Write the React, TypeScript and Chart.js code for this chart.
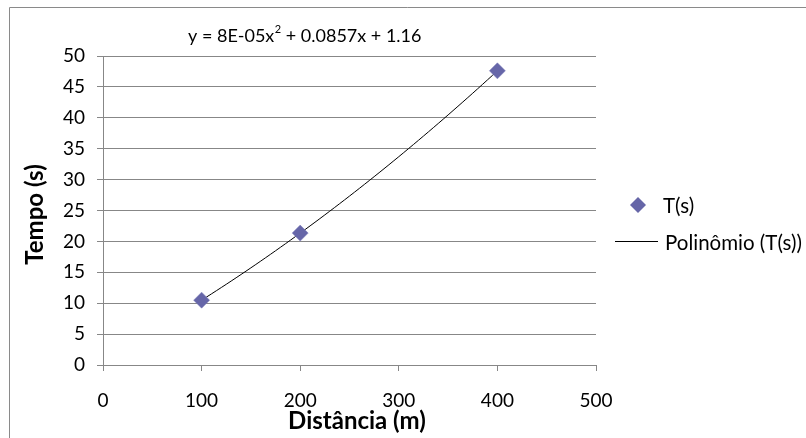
import React, { useEffect, useRef } from "react";
import { Chart, registerables } from "chart.js";

Chart.register(...registerables);

// Measured run times over each distance
const distances = [100, 200, 400];
const times = [10.49, 21.34, 47.6];

const xTicks = { min: 0, max: 500, step: 100 };
const yTicks = { min: 0, max: 50, step: 5 };

const seriesName = "T(s)";
const trendName = "Polinômio (T(s))";
const xTitle = "Distância (m)";
const yTitle = "Tempo (s)";

const FONT = "Lato, 'Open Sans', sans-serif";
const GRID = "#878787";
const MARKER = "#6666A8";

// Least-squares quadratic fit y = a x^2 + b x + c
function fitQuadratic(xs: number[], ys: number[]) {
  const s = [0, 0, 0, 0, 0];
  const t = [0, 0, 0];
  for (let i = 0; i < xs.length; i++) {
    let p = 1;
    for (let k = 0; k < 5; k++) {
      s[k] += p;
      if (k < 3) t[k] += p * ys[i];
      p *= xs[i];
    }
  }
  // normal equations, unknowns ordered [c, b, a]
  const m = [
    [s[0], s[1], s[2], t[0]],
    [s[1], s[2], s[3], t[1]],
    [s[2], s[3], s[4], t[2]],
  ];
  for (let i = 0; i < 3; i++) {
    let piv = i;
    for (let r = i + 1; r < 3; r++) if (Math.abs(m[r][i]) > Math.abs(m[piv][i])) piv = r;
    [m[i], m[piv]] = [m[piv], m[i]];
    for (let r = 0; r < 3; r++) {
      if (r === i) continue;
      const f = m[r][i] / m[i][i];
      for (let c = i; c < 4; c++) m[r][c] -= f * m[i][c];
    }
  }
  const c = m[0][3] / m[0][0];
  const b = m[1][3] / m[1][1];
  const a = m[2][3] / m[2][2];
  return { a, b, c };
}

const fit = fitQuadratic(distances, times);

function excelExp(v: number) {
  const [mant, exp] = v.toExponential(0).split("e");
  const n = parseInt(exp, 10);
  const sign = n < 0 ? "-" : "+";
  return `${mant}E${sign}${String(Math.abs(n)).padStart(2, "0")}`;
}

const eqLead = `y = ${excelExp(fit.a)}x`;
const eqTail = ` + ${Number(fit.b.toPrecision(3))}x + ${Number(fit.c.toPrecision(3))}`;

// curve evaluated across the span of the measured distances
const trendPoints = (() => {
  const lo = Math.min(...distances);
  const hi = Math.max(...distances);
  const pts: { x: number; y: number }[] = [];
  const n = 60;
  for (let i = 0; i <= n; i++) {
    const x = lo + ((hi - lo) * i) / n;
    pts.push({ x, y: fit.a * x * x + fit.b * x + fit.c });
  }
  return pts;
})();

const decorations = {
  id: "decorations",
  afterDraw(chart: any) {
    const ctx = chart.ctx as CanvasRenderingContext2D;
    ctx.save();

    // frame
    ctx.strokeStyle = "#8a8a8a";
    ctx.lineWidth = 1;
    ctx.beginPath();
    ctx.moveTo(9.5, 438);
    ctx.lineTo(9.5, 7.5);
    ctx.lineTo(806, 7.5);
    ctx.stroke();

    // trendline equation
    ctx.fillStyle = "#000";
    ctx.textBaseline = "alphabetic";
    ctx.textAlign = "left";
    ctx.font = `18px ${FONT}`;
    let x = 188;
    const base = 41.5;
    ctx.fillText(eqLead, x, base);
    x += ctx.measureText(eqLead).width;
    ctx.font = `11px ${FONT}`;
    ctx.fillText("2", x + 0.5, base - 8.5);
    x += ctx.measureText("2").width + 0.5;
    ctx.font = `18px ${FONT}`;
    ctx.fillText(eqTail, x, base);

    // axis titles
    ctx.font = `bold 24px ${FONT}`;
    ctx.textAlign = "center";
    ctx.textBaseline = "alphabetic";
    ctx.fillText(xTitle, 357, 429);
    ctx.save();
    ctx.translate(43, 214.5);
    ctx.rotate(-Math.PI / 2);
    ctx.fillText(yTitle, 0, 0);
    ctx.restore();

    // legend
    const dx = 638, dy = 205, r = 8;
    ctx.fillStyle = MARKER;
    ctx.beginPath();
    ctx.moveTo(dx - r, dy);
    ctx.lineTo(dx, dy - r);
    ctx.lineTo(dx + r, dy);
    ctx.lineTo(dx, dy + r);
    ctx.closePath();
    ctx.fill();

    ctx.strokeStyle = "#000";
    ctx.beginPath();
    ctx.moveTo(615, 241.5);
    ctx.lineTo(658, 241.5);
    ctx.stroke();

    ctx.fillStyle = "#000";
    ctx.font = `20.5px ${FONT}`;
    ctx.textAlign = "left";
    ctx.textBaseline = "middle";
    ctx.fillText(seriesName, 663, 206.5);
    ctx.fillText(trendName, 665, 243);

    ctx.restore();
  },
};

export default function App() {
  const ref = useRef<HTMLCanvasElement>(null);

  useEffect(() => {
    if (!ref.current) return;
    const chart = new Chart(ref.current, {
      type: "scatter",
      data: {
        datasets: [
          {
            label: trendName,
            type: "line",
            data: trendPoints,
            borderColor: "#000",
            borderWidth: 1,
            pointRadius: 0,
            tension: 0,
            fill: false,
            order: 2,
          },
          {
            label: seriesName,
            data: distances.map((d, i) => ({ x: d, y: times[i] })),
            pointStyle: "rectRot",
            pointRadius: 8,
            pointHoverRadius: 8,
            backgroundColor: MARKER,
            borderColor: "#7a7ab8",
            borderWidth: 0.5,
            order: 1,
          },
        ],
      },
      options: {
        responsive: false,
        animation: false,
        events: [],
        layout: { padding: { left: 0, top: 56, right: 210, bottom: 0 } },
        plugins: {
          legend: { display: false },
          tooltip: { enabled: false },
        },
        scales: {
          x: {
            type: "linear",
            min: xTicks.min,
            max: xTicks.max,
            ticks: {
              stepSize: xTicks.step,
              padding: 18,
              color: "#000",
              font: { family: FONT, size: 19 },
            },
            grid: {
              drawOnChartArea: false,
              drawTicks: true,
              tickLength: 6,
              color: GRID,
            },
            border: { color: GRID, width: 1 },
            afterFit(scale: any) {
              scale.height = 73;
            },
          },
          y: {
            type: "linear",
            min: yTicks.min,
            max: yTicks.max,
            ticks: {
              stepSize: yTicks.step,
              padding: 12,
              color: "#000",
              font: { family: FONT, size: 19 },
            },
            grid: {
              color: GRID,
              tickLength: 6,
            },
            border: { color: GRID, width: 1 },
            afterFit(scale: any) {
              scale.width = 103;
            },
          },
        },
      },
      plugins: [decorations],
    });
    return () => chart.destroy();
  }, []);

  return (
    <canvas
      ref={ref}
      width={806}
      height={438}
      style={{ position: "absolute", left: 0, top: 0, display: "block", background: "#fff" }}
    />
  );
}
